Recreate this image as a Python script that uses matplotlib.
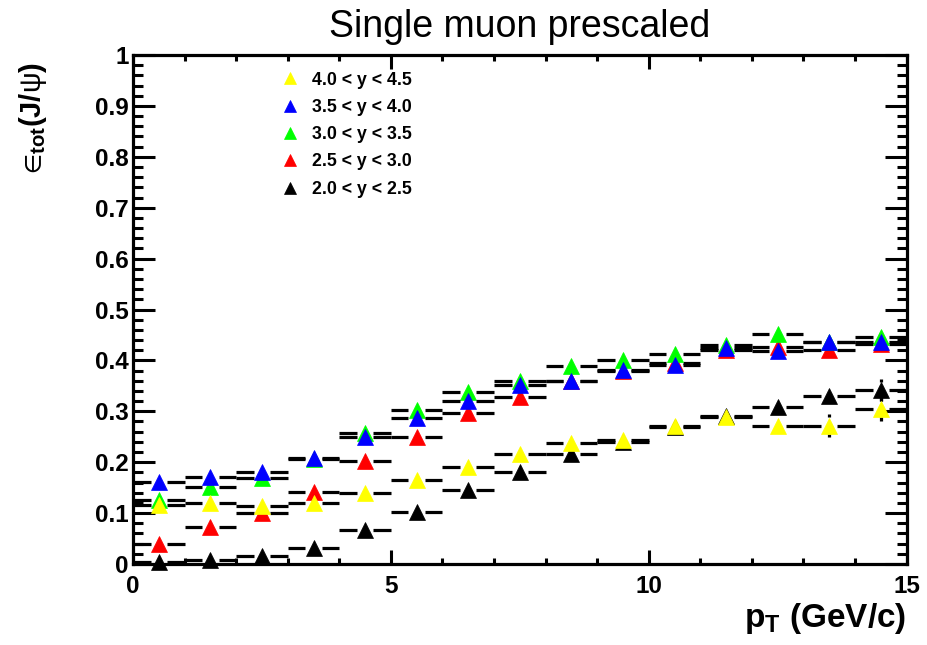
import numpy as np
import matplotlib
matplotlib.use("Agg")
import matplotlib.pyplot as plt
from matplotlib.ticker import MultipleLocator, FixedLocator, FixedFormatter

plt.rcParams['font.family'] = ['Liberation Sans', 'DejaVu Sans']
plt.rcParams['mathtext.fontset'] = 'custom'
plt.rcParams['mathtext.rm'] = 'Liberation Sans'
plt.rcParams['mathtext.bf'] = 'Liberation Sans:bold'
plt.rcParams['mathtext.it'] = 'Liberation Sans:italic'
plt.rcParams['mathtext.sf'] = 'Liberation Sans'

# bin centres in pT (GeV/c), 1 GeV wide bins
pt = np.array([0.5, 1.5, 2.5, 3.5, 4.5, 5.5, 6.5, 7.5, 8.5, 9.5, 10.5, 11.5, 12.5, 13.5, 14.5])
pt_halfwidth = 0.5

# efficiency per rapidity bin
eff_20_25 = np.array([0.003, 0.008, 0.016, 0.031, 0.067, 0.103, 0.145, 0.181, 0.216, 0.240,
                      0.270, 0.290, 0.309, 0.331, 0.342])
eff_25_30 = np.array([0.039, 0.073, 0.101, 0.141, 0.203, 0.250, 0.296, 0.329, 0.360, 0.380,
                      0.395, 0.420, 0.426, 0.420, 0.432])
eff_30_35 = np.array([0.126, 0.151, 0.168, 0.206, 0.258, 0.303, 0.337, 0.360, 0.389, 0.400,
                      0.412, 0.430, 0.451, 0.437, 0.445])
eff_35_40 = np.array([0.162, 0.170, 0.181, 0.208, 0.250, 0.286, 0.320, 0.352, 0.360, 0.382,
                      0.391, 0.424, 0.419, 0.437, 0.437])
eff_40_45 = np.array([0.116, 0.120, 0.114, 0.119, 0.139, 0.165, 0.190, 0.216, 0.237, 0.244,
                      0.271, 0.289, 0.272, 0.272, 0.304])

# statistical errors (mostly hidden below the markers)
err_20_25 = np.array([0.002, 0.002, 0.003, 0.004, 0.005, 0.005, 0.006, 0.007, 0.008, 0.009,
                      0.010, 0.012, 0.014, 0.016, 0.022])
err_25_30 = np.array([0.003, 0.004, 0.005, 0.005, 0.006, 0.007, 0.008, 0.008, 0.009, 0.010,
                      0.011, 0.012, 0.013, 0.014, 0.015])
err_30_35 = np.array([0.004, 0.004, 0.005, 0.005, 0.006, 0.007, 0.008, 0.008, 0.009, 0.010,
                      0.011, 0.012, 0.013, 0.014, 0.015])
err_35_40 = np.array([0.004, 0.004, 0.005, 0.005, 0.006, 0.007, 0.008, 0.008, 0.009, 0.010,
                      0.011, 0.012, 0.013, 0.014, 0.015])
err_40_45 = np.array([0.005, 0.005, 0.005, 0.006, 0.006, 0.007, 0.008, 0.009, 0.010, 0.011,
                      0.012, 0.013, 0.015, 0.023, 0.024])

labels = ['2.0 < y < 2.5', '2.5 < y < 3.0', '3.0 < y < 3.5', '3.5 < y < 4.0', '4.0 < y < 4.5']
colors = ['#000000', '#ff0000', '#00ff00', '#0000ff', '#ffff00']
series = [eff_20_25, eff_25_30, eff_30_35, eff_35_40, eff_40_45]
errors = [err_20_25, err_25_30, err_30_35, err_35_40, err_40_45]

y_ticks = [0, 0.1, 0.2, 0.3, 0.4, 0.5, 0.6, 0.7, 0.8, 0.9, 1.0]
y_ticklabels = ['0', '0.1', '0.2', '0.3', '0.4', '0.5', '0.6', '0.7', '0.8', '0.9', '1']
x_ticks = [0, 5, 10, 15]


def main():
    fig = plt.figure(figsize=(9.27, 6.45), dpi=100)
    ax = fig.add_axes([0.1435, 0.1256, 0.8345, 0.7891])

    gap_x = 0.16   # ROOT leaves a gap round the marker
    gap_y = 0.016
    handles = {}
    for i, (lab, c, y, e) in enumerate(zip(labels, colors, series, errors)):
        z = 3 + 2 * i
        ax.hlines(y, pt - pt_halfwidth, pt - gap_x, color='black', lw=2.3, zorder=z)
        ax.hlines(y, pt + gap_x, pt + pt_halfwidth, color='black', lw=2.3, zorder=z)
        m = e > gap_y
        ax.vlines(pt[m], y[m] + gap_y, y[m] + e[m], color='black', lw=2.3, zorder=z)
        ax.vlines(pt[m], y[m] - e[m], y[m] - gap_y, color='black', lw=2.3, zorder=z)
        h, = ax.plot(pt, y, linestyle='none', marker='^', ms=11, color=c, mec=c,
                     mew=0.5, zorder=z + 1, label=lab, clip_on=False)
        handles[lab] = h

    ax.set_xlim(0, 15)
    ax.set_ylim(0, 1)

    ax.xaxis.set_major_locator(FixedLocator(x_ticks))
    ax.xaxis.set_minor_locator(MultipleLocator(1))
    ax.yaxis.set_major_locator(FixedLocator(y_ticks))
    ax.yaxis.set_major_formatter(FixedFormatter(y_ticklabels))
    ax.yaxis.set_minor_locator(MultipleLocator(0.02))

    for sp in ax.spines.values():
        sp.set_linewidth(2.3)
    ax.tick_params(axis='x', which='major', direction='in', length=10, width=2.2,
                   top=True, pad=8, labelsize=17.5)
    ax.tick_params(axis='x', which='minor', direction='in', length=4.5, width=2.2, top=True)
    ax.tick_params(axis='y', which='major', direction='in', length=16, width=2.2,
                   right=True, pad=3, labelsize=17.5)
    ax.tick_params(axis='y', which='minor', direction='in', length=7.5, width=2.2, right=True)
    for t in ax.get_xticklabels() + ax.get_yticklabels():
        t.set_fontweight('bold')

    ax.set_title('Single muon prescaled', fontsize=27, pad=13)
    ax.set_xlabel(r'$\mathbf{p}_{\mathbf{T}}$ (GeV/c)', fontsize=24, fontweight='bold',
                  loc='right')
    ax.xaxis.set_label_coords(1.0, -0.072)
    ax.set_ylabel(r'$∈_{\mathbf{tot}}$(J/$\mathrm{\psi}$)', fontsize=21, fontweight='bold',
                  loc='top')
    ax.yaxis.set_label_coords(-0.108, 0.987)

    order = ['4.0 < y < 4.5', '3.5 < y < 4.0', '3.0 < y < 3.5', '2.5 < y < 3.0', '2.0 < y < 2.5']
    ax.legend([handles[k] for k in order], order, loc='upper left',
              bbox_to_anchor=(0.18, 0.985), frameon=False, markerscale=0.8,
              handlelength=1.0, handletextpad=0.75, labelspacing=0.58,
              borderpad=0, prop={'weight': 'bold', 'size': 12.8})

    fig.savefig('out.png', dpi=100, facecolor='white')


if __name__ == "__main__":
    main()
